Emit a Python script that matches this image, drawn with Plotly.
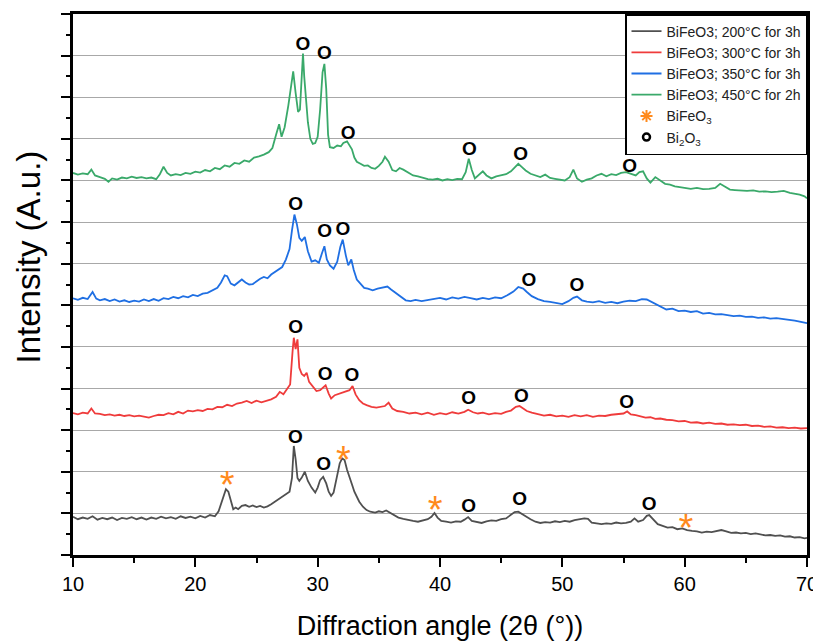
import plotly.graph_objects as go

# ---------------- data ----------------
angle_200 = [10.0,10.4,10.8,11.2,11.6,12.0,12.4,12.8,13.2,13.6,14.0,14.4,14.8,15.2,15.6,16.0,16.4,16.8,17.2,17.6,
             18.0,18.4,18.8,19.2,19.6,20.0,20.4,20.8,21.2,21.6,21.9,22.2,22.5,22.7,22.9,23.1,23.3,23.5,23.8,24.1,
             24.4,24.7,25.0,25.3,25.6,25.9,26.2,26.5,26.8,27.1,27.4,27.7,27.9,28.05,28.2,28.35,28.5,28.7,28.95,29.2,
             29.5,29.8,30.0,30.2,30.45,30.7,30.9,31.1,31.3,31.55,31.8,32.0,32.2,32.4,32.6,32.8,33.0,33.2,33.4,33.7,
             34.0,34.3,34.7,35.0,35.3,35.6,35.9,36.2,36.6,37.0,37.4,37.8,38.2,38.6,39.0,39.3,39.55,39.8,40.1,40.5,
             40.9,41.3,41.7,42.0,42.3,42.6,43.0,43.4,43.8,44.2,44.6,45.0,45.4,45.8,46.1,46.4,46.7,47.0,47.4,47.8,
             48.2,48.6,49.0,49.4,49.8,50.2,50.6,51.0,51.4,51.8,52.1,52.4,52.8,53.2,53.6,54.0,54.4,54.8,55.2,55.6,
             55.9,56.2,56.6,56.9,57.1,57.4,57.8,58.2,58.6,59.0,59.4,59.8,60.2,60.6,61.0,61.4,61.8,62.2,62.6,63.0,
             63.4,63.8,64.2,64.6,65.0,65.4,65.8,66.2,66.6,67.0,67.4,67.8,68.2,68.6,69.0,69.4,69.8,70.0]
int_200 = [0.92,0.86,0.90,0.87,0.93,0.85,0.89,0.86,0.90,0.84,0.89,0.87,0.91,0.86,0.90,0.85,0.90,0.87,0.92,0.88,
           0.91,0.87,0.93,0.89,0.92,0.88,0.94,0.90,0.96,0.93,1.05,1.30,1.58,1.52,1.28,1.10,1.14,1.10,1.18,1.20,
           1.16,1.19,1.15,1.18,1.14,1.17,1.22,1.28,1.34,1.38,1.45,1.52,1.85,2.62,2.30,1.85,1.78,1.86,2.00,1.78,
           1.62,1.50,1.62,1.80,1.88,1.72,1.52,1.42,1.50,1.85,2.20,2.32,2.28,2.05,1.85,1.70,1.52,1.38,1.28,1.16,
           1.08,1.04,1.02,1.05,1.03,1.07,1.02,0.96,0.90,0.87,0.84,0.82,0.80,0.83,0.86,0.92,1.01,0.90,0.82,0.80,
           0.78,0.81,0.80,0.85,0.91,0.82,0.79,0.77,0.81,0.83,0.82,0.86,0.88,0.96,1.03,1.04,0.98,0.93,0.86,0.80,
           0.77,0.79,0.78,0.81,0.79,0.82,0.80,0.84,0.86,0.88,0.87,0.78,0.76,0.74,0.76,0.75,0.78,0.76,0.77,0.80,
           0.88,0.80,0.84,0.94,0.96,0.86,0.74,0.70,0.66,0.67,0.62,0.64,0.60,0.58,0.57,0.54,0.56,0.55,0.57,0.60,
           0.57,0.53,0.54,0.52,0.53,0.50,0.52,0.49,0.47,0.48,0.46,0.47,0.44,0.45,0.42,0.43,0.40,0.41]

angle_300 = [10.0,10.4,10.8,11.2,11.5,11.8,12.2,12.6,13.0,13.4,13.8,14.2,14.6,15.0,15.4,15.8,16.2,16.6,17.0,17.4,
             17.8,18.2,18.6,19.0,19.4,19.8,20.2,20.6,21.0,21.4,21.8,22.2,22.6,23.0,23.4,23.8,24.2,24.6,25.0,25.4,
             25.8,26.2,26.6,26.9,27.2,27.5,27.75,27.95,28.05,28.2,28.35,28.5,28.7,28.9,29.1,29.3,29.6,29.9,30.2,30.45,
             30.65,30.9,31.1,31.4,31.7,32.0,32.3,32.6,32.85,33.1,33.4,33.7,34.0,34.4,34.8,35.2,35.5,35.8,36.1,36.5,
             37.0,37.5,38.0,38.5,39.0,39.5,40.0,40.5,41.0,41.5,42.0,42.3,42.7,43.1,43.5,44.0,44.5,45.0,45.4,45.8,
             46.2,46.5,46.8,47.1,47.5,48.0,48.5,49.0,49.5,50.0,50.5,51.0,51.5,52.0,52.5,53.0,53.5,54.0,54.5,55.0,
             55.3,55.6,56.0,56.4,56.8,57.2,57.6,58.0,58.5,59.0,59.5,60.0,60.5,61.0,61.5,62.0,62.5,63.0,63.5,64.0,
             64.5,65.0,65.5,66.0,66.5,67.0,67.5,68.0,68.5,69.0,69.5,70.0]
int_300 = [3.41,3.38,3.42,3.40,3.52,3.40,3.39,3.36,3.38,3.35,3.37,3.34,3.36,3.33,3.35,3.32,3.30,3.34,3.37,3.36,
           3.41,3.38,3.44,3.40,3.47,3.45,3.48,3.46,3.51,3.50,3.56,3.55,3.61,3.58,3.64,3.66,3.70,3.65,3.71,3.67,
           3.70,3.74,3.80,3.92,3.86,3.98,4.10,4.90,5.22,4.95,5.18,4.50,4.35,4.30,4.38,4.16,4.04,3.94,3.96,4.02,
           4.08,3.88,3.76,3.84,3.87,3.90,3.94,3.96,4.06,3.86,3.72,3.64,3.60,3.56,3.54,3.56,3.58,3.66,3.52,3.46,
           3.44,3.40,3.42,3.38,3.42,3.37,3.41,3.38,3.43,3.40,3.44,3.49,3.43,3.40,3.42,3.38,3.41,3.39,3.44,3.47,
           3.56,3.58,3.52,3.46,3.42,3.39,3.35,3.37,3.33,3.35,3.32,3.36,3.33,3.36,3.32,3.35,3.34,3.37,3.38,3.40,
           3.45,3.38,3.36,3.33,3.30,3.31,3.27,3.28,3.25,3.24,3.21,3.22,3.18,3.19,3.16,3.18,3.15,3.16,3.13,3.14,
           3.12,3.13,3.10,3.11,3.08,3.09,3.06,3.07,3.05,3.06,3.04,3.05]

angle_350 = [10.0,10.4,10.8,11.2,11.6,11.9,12.2,12.6,13.0,13.4,13.8,14.2,14.6,15.0,15.4,15.8,16.2,16.6,17.0,17.4,
             17.8,18.2,18.6,19.0,19.4,19.8,20.2,20.6,21.0,21.4,21.8,22.1,22.4,22.6,22.9,23.2,23.5,23.8,24.1,24.4,
             24.7,25.0,25.3,25.6,25.9,26.2,26.5,26.8,27.1,27.4,27.7,27.9,28.1,28.3,28.5,28.7,28.95,29.2,29.5,29.8,
             30.1,30.35,30.55,30.75,31.0,31.3,31.6,31.85,32.05,32.3,32.5,32.75,32.95,33.2,33.5,33.8,34.1,34.5,34.9,35.3,
             35.7,36.0,36.4,36.8,37.2,37.6,38.0,38.5,39.0,39.5,40.0,40.5,41.0,41.5,42.0,42.5,43.0,43.5,44.0,44.5,
             45.0,45.5,46.0,46.4,46.8,47.1,47.5,48.0,48.5,49.0,49.5,50.0,50.5,50.9,51.2,51.6,52.0,52.5,53.0,53.5,
             54.0,54.5,55.0,55.5,56.0,56.5,56.9,57.3,57.7,58.1,58.5,59.0,59.5,60.0,60.5,61.0,61.5,62.0,62.5,63.0,
             63.5,64.0,64.5,65.0,65.5,66.0,66.5,67.0,67.5,68.0,68.5,69.0,69.5,70.0]
int_350 = [6.17,6.13,6.18,6.15,6.32,6.16,6.12,6.15,6.10,6.14,6.09,6.12,6.08,6.11,6.09,6.14,6.10,6.15,6.11,6.17,
           6.15,6.20,6.17,6.22,6.19,6.25,6.22,6.28,6.30,6.36,6.42,6.55,6.72,6.70,6.52,6.48,6.55,6.62,6.55,6.50,
           6.51,6.58,6.64,6.68,6.65,6.74,6.80,6.86,6.92,7.10,7.35,7.80,8.18,7.95,7.62,7.55,7.64,7.30,7.05,7.08,
           7.02,7.25,7.42,7.10,6.96,6.88,7.05,7.40,7.58,7.20,6.96,7.10,6.85,6.62,6.52,6.42,6.40,6.36,6.40,6.42,
           6.45,6.38,6.30,6.20,6.12,6.10,6.13,6.10,6.13,6.15,6.18,6.14,6.19,6.16,6.20,6.17,6.14,6.18,6.15,6.19,
           6.17,6.24,6.33,6.44,6.40,6.32,6.22,6.15,6.10,6.08,6.05,6.03,6.10,6.18,6.21,6.12,6.09,6.07,6.10,6.06,
           6.08,6.05,6.09,6.11,6.10,6.15,6.14,6.08,6.00,5.95,5.90,5.92,5.86,5.87,5.84,5.86,5.80,5.82,5.78,5.79,
           5.76,5.74,5.75,5.72,5.73,5.70,5.71,5.68,5.69,5.67,5.66,5.63,5.60,5.57]

angle_450 = [10.0,10.4,10.8,11.2,11.5,11.8,12.2,12.6,12.9,13.2,13.6,14.0,14.4,14.8,15.2,15.6,16.0,16.4,16.8,17.1,
             17.4,17.7,18.0,18.4,18.8,19.2,19.6,20.0,20.4,20.8,21.2,21.6,22.0,22.4,22.8,23.2,23.6,24.0,24.4,24.8,
             25.2,25.6,26.0,26.3,26.6,26.85,27.05,27.3,27.6,27.85,28.0,28.2,28.4,28.55,28.7,28.8,28.9,29.05,29.2,29.4,
             29.6,29.8,30.0,30.2,30.4,30.55,30.7,30.85,31.0,31.3,31.6,31.9,32.1,32.4,32.6,32.8,33.0,33.2,33.5,33.8,
             34.1,34.4,34.7,35.0,35.3,35.5,35.8,36.1,36.4,36.7,37.0,37.4,37.8,38.2,38.6,39.0,39.4,39.8,40.2,40.6,
             41.0,41.4,41.8,42.1,42.35,42.6,42.85,43.1,43.5,43.8,44.2,44.6,45.0,45.4,45.8,46.1,46.4,46.7,47.0,47.4,
             47.8,48.2,48.6,49.0,49.4,49.8,50.2,50.6,50.9,51.2,51.6,52.0,52.4,52.8,53.2,53.6,54.0,54.4,54.8,55.2,
             55.6,56.0,56.3,56.6,56.9,57.2,57.6,58.0,58.4,58.8,59.2,59.6,60.0,60.5,61.0,61.5,62.0,62.5,62.9,63.3,
             63.7,64.1,64.6,65.1,65.6,66.1,66.6,67.1,67.6,68.1,68.6,69.0,69.4,69.8,70.0]
int_450 = [9.18,9.14,9.17,9.15,9.26,9.12,9.08,9.04,8.97,9.05,9.02,9.07,9.05,9.09,9.06,9.08,9.05,9.07,9.03,9.15,
           9.33,9.18,9.12,9.15,9.13,9.18,9.16,9.21,9.19,9.25,9.22,9.30,9.27,9.36,9.33,9.42,9.40,9.48,9.45,9.55,
           9.58,9.62,9.68,9.78,10.10,10.35,10.05,10.28,10.80,11.40,11.62,11.10,10.65,10.70,11.60,12.05,11.50,11.00,10.40,10.00,
           9.88,9.90,10.05,10.70,11.60,11.80,11.20,10.10,9.80,9.78,9.84,9.82,9.90,9.94,9.86,9.75,9.55,9.45,9.40,9.35,
           9.36,9.30,9.28,9.35,9.45,9.57,9.45,9.25,9.22,9.30,9.26,9.18,9.12,9.10,9.06,9.03,9.02,9.04,9.00,9.03,
           9.01,9.04,9.03,9.20,9.52,9.25,9.05,9.12,9.22,9.12,9.05,9.10,9.12,9.15,9.22,9.30,9.40,9.32,9.24,9.16,
           9.12,9.08,9.14,9.06,9.04,9.02,9.00,9.08,9.26,9.05,8.97,9.02,9.05,9.12,9.16,9.10,9.15,9.13,9.18,9.20,
           9.16,9.12,9.20,9.22,9.05,8.95,9.08,9.00,8.92,8.90,8.86,8.84,8.82,8.80,8.82,8.79,8.80,8.82,8.92,8.84,
           8.78,8.77,8.76,8.75,8.76,8.73,8.74,8.72,8.73,8.75,8.70,8.68,8.66,8.62,8.57]

series_names = ["BiFeO3; 200°C for 3h", "BiFeO3; 300°C for 3h",
                "BiFeO3; 350°C for 3h", "BiFeO3; 450°C for 2h"]

# Bi2O3 peak labels ("O") and BiFeO3 peak labels ("*")
bi2o3_x = [28.8, 30.55, 32.5, 42.4, 46.6, 55.5,
           28.2, 30.57, 32.07, 47.27, 51.2,
           28.2, 30.62, 32.8, 42.35, 46.66, 55.25,
           28.17, 30.49, 42.35, 46.5, 57.1]
bi2o3_y = [12.26, 12.03, 10.12, 9.72, 9.60, 9.32,
           8.41, 7.75, 7.81, 6.57, 6.45,
           5.45, 4.33, 4.29, 3.74, 3.79, 3.65,
           2.80, 2.16, 1.15, 1.32, 1.20]
bifeo3_x = [22.6, 32.1, 39.6, 60.1]
bifeo3_y = [1.60, 2.20, 1.00, 0.56]

x_ticks = [10, 20, 30, 40, 50, 60, 70]

# ---------------- styling ----------------
colors = ["#505050", "#ef3b3b", "#1f6fe3", "#3aa96a"]
orange = "#ff8a1c"
font_main = "Liberation Sans, Arial, sans-serif"

fig = go.Figure()
for xs, ys, name, c in zip([angle_200, angle_300, angle_350, angle_450],
                           [int_200, int_300, int_350, int_450],
                           series_names, colors):
    fig.add_trace(go.Scatter(x=xs, y=ys, mode="lines", name=name,
                             line=dict(color=c, width=1.8)))

fig.add_trace(go.Scatter(x=bi2o3_x, y=bi2o3_y, mode="text", text=["O"] * len(bi2o3_x),
                         textfont=dict(family=font_main, size=19, color="black", weight="bold"),
                         showlegend=False, hoverinfo="skip"))
fig.add_trace(go.Scatter(x=bifeo3_x, y=bifeo3_y, mode="text", text=["*"] * len(bifeo3_x),
                         textfont=dict(family=font_main, size=38, color=orange),
                         textposition="middle center",
                         showlegend=False, hoverinfo="skip"))

# legend-only entries for the peak labels
fig.add_trace(go.Scatter(x=[None], y=[None], mode="markers", name="BiFeO<sub>3</sub>",
                         marker=dict(symbol="asterisk-open", size=10, color=orange,
                                     line=dict(color=orange, width=2))))
fig.add_trace(go.Scatter(x=[None], y=[None], mode="markers", name="Bi<sub>2</sub>O<sub>3</sub>",
                         marker=dict(symbol="circle-open", size=7, color="black",
                                     line=dict(color="black", width=2.5))))

# the page adds an 8 px body margin, so the figure is 8 px smaller than the window
fig.update_layout(
    width=813, height=633,
    margin=dict(l=65, r=14, t=6, b=86, autoexpand=False),
    paper_bgcolor="white", plot_bgcolor="white",
    font=dict(family=font_main, color="black"),
    showlegend=True,
    legend=dict(x=1, y=1, xanchor="right", yanchor="top",
                bgcolor="white", bordercolor="black", borderwidth=1.5,
                font=dict(family=font_main, size=14, color="#222222"),
                itemwidth=30, tracegroupgap=0),
    xaxis=dict(range=[10, 70], tickmode="array", tickvals=x_ticks,
               ticks="outside", ticklen=9, tickwidth=2, tickcolor="black",
               minor=dict(dtick=5, ticks="outside", ticklen=5, tickwidth=2, tickcolor="black"),
               showline=True, linewidth=2.5, linecolor="black", mirror=True,
               showgrid=False, zeroline=False, automargin=False,
               tickfont=dict(size=20, family=font_main),
               title=dict(text="Diffraction angle (2θ (°))", font=dict(size=27, family=font_main),
                          standoff=26)),
    yaxis=dict(range=[0, 13], dtick=1, showticklabels=False,
               ticks="outside", ticklen=9, tickwidth=2, tickcolor="black",
               minor=dict(dtick=0.5, ticks="outside", ticklen=4, tickwidth=2, tickcolor="black",
                          showgrid=False),
               showline=True, linewidth=2.5, linecolor="black", mirror=True,
               showgrid=True, gridcolor="#a8a8a8", gridwidth=1.2, zeroline=False,
               automargin=False),
    annotations=[dict(text="Intensity (A.u.)", textangle=-90, showarrow=False,
                      xref="paper", yref="paper", x=0, y=0.55, xanchor="center", yanchor="middle",
                      xshift=-45, font=dict(size=33, family=font_main, color="black"))],
)

fig.write_html("out.html")
